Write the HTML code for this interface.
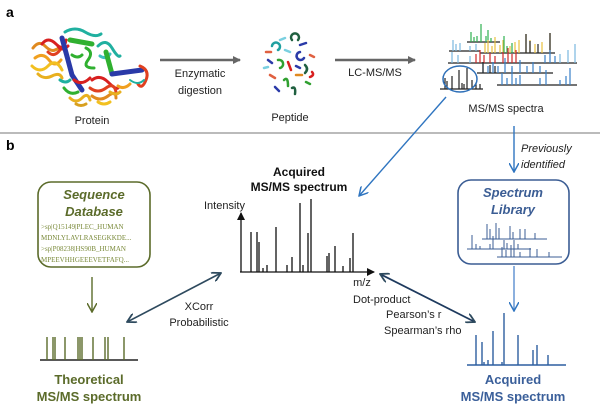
<!DOCTYPE html>
<html><head><meta charset="utf-8"><style>
html,body{margin:0;padding:0;background:#fff;}
svg{display:block;font-family:"Liberation Sans",sans-serif;}
</style></head><body>
<svg width="600" height="407" viewBox="0 0 600 407" xmlns="http://www.w3.org/2000/svg">
<defs>
<marker id="ag" markerWidth="8" markerHeight="8" refX="7" refY="4" orient="auto" markerUnits="userSpaceOnUse"><path d="M0,0 L8,4 L0,8 z" fill="#666"/></marker>
<marker id="ab" markerWidth="10" markerHeight="10" refX="9" refY="5" orient="auto-start-reverse" markerUnits="userSpaceOnUse"><path d="M0,0 L9,5 L0,10" fill="none" stroke="#2f75c0" stroke-width="1.5"/></marker>
<marker id="ao" markerWidth="10" markerHeight="10" refX="9" refY="5" orient="auto" markerUnits="userSpaceOnUse"><path d="M0,0 L9,5 L0,10" fill="none" stroke="#5b6b2a" stroke-width="1.5"/></marker>
<marker id="ad" markerWidth="10" markerHeight="10" refX="9" refY="5" orient="auto-start-reverse" markerUnits="userSpaceOnUse"><path d="M0,0 L9,5 L0,10" fill="none" stroke="#2e4a5e" stroke-width="1.8"/></marker>
<marker id="ak" markerWidth="8" markerHeight="8" refX="7" refY="4" orient="auto" markerUnits="userSpaceOnUse"><path d="M0,0 L8,4 L0,8 z" fill="#111"/></marker>
</defs>

<text x="6" y="17" font-size="14" font-weight="bold">a</text>
<text x="6" y="150" font-size="14" font-weight="bold">b</text>
<line x1="0" y1="133" x2="600" y2="133" stroke="#bbb" stroke-width="2"/>

<!-- protein blob -->
<g stroke-width="3" fill="none" stroke-linecap="round">
<path d="M33,48 q6,-8 12,-2 t10,4 t10,-4" stroke="#e08a20"/>
<path d="M35,58 q8,-6 14,2 t12,0" stroke="#f0a020"/>
<path d="M32,66 q8,8 16,0 t14,4" stroke="#f2c020"/>
<path d="M38,74 q6,6 14,2 t10,2" stroke="#e8b020"/>
<path d="M42,44 q6,-8 14,0 t10,-4" stroke="#d82020"/>
<path d="M48,52 q6,6 12,-2" stroke="#e04020"/>
<path d="M58,46 q4,6 10,0" stroke="#d82020"/>
<path d="M62,38 L68,60 L72,75 L82,90" stroke="#2a3aa8" stroke-width="5"/>
<path d="M65,32 q10,-6 20,0 t16,2" stroke="#20b0a0"/>
<path d="M70,40 L92,44" stroke="#30b030" stroke-width="5"/>
<path d="M86,48 q8,4 2,12 t6,8" stroke="#30b030"/>
<path d="M72,55 q6,4 10,0" stroke="#30b030"/>
<path d="M74,80 q8,6 16,-2" stroke="#d82020"/>
<path d="M64,88 q6,8 14,4" stroke="#30b030"/>
<path d="M60,80 q6,4 10,0" stroke="#20b0a0"/>
<path d="M70,98 q6,6 12,0 t8,2" stroke="#e8b020"/>
<path d="M76,104 q5,3 10,0" stroke="#d8a020"/>
<path d="M98,46 q8,-8 14,2 t8,8" stroke="#20b0a0"/>
<path d="M100,56 q6,4 10,-2" stroke="#40c0c0"/>
<path d="M106,52 L112,74" stroke="#30b030" stroke-width="5"/>
<path d="M112,74 L142,70" stroke="#2a3aa8" stroke-width="5"/>
<path d="M140,66 q10,4 6,14 t-8,4" stroke="#e04020"/>
<path d="M130,80 q8,6 14,0" stroke="#20b0a0" stroke-width="2"/>
<path d="M92,80 q8,-6 16,2 t10,6" stroke="#d82020"/>
<path d="M90,88 q8,6 16,0 t10,4" stroke="#e04020"/>
<path d="M92,96 q8,6 16,0 t8,2" stroke="#e08a20"/>
<path d="M98,102 q6,4 12,0" stroke="#f2c020"/>
<path d="M118,86 q6,4 12,-2" stroke="#f0a020"/>
<path d="M110,92 q6,4 10,0" stroke="#e8b020"/>
</g>
<text x="92" y="124" font-size="11" text-anchor="middle" fill="#222">Protein</text>

<line x1="160" y1="60" x2="240" y2="60" stroke="#666" stroke-width="2.5" marker-end="url(#ag)"/>
<text x="200" y="77" font-size="11" text-anchor="middle" fill="#222">Enzymatic</text>
<text x="200" y="94" font-size="11" text-anchor="middle" fill="#222">digestion</text>

<!-- peptides -->
<g fill="none" stroke-width="2.5" stroke-linecap="round">
<path d="M272,46 a4,4 0 1,1 6,4" stroke="#20a0a0"/>
<path d="M292,40 a4,4 0 1,1 6,0" stroke="#206040"/>
<path d="M300,52 a4,4 0 1,0 4,6" stroke="#2a3aa8"/>
<path d="M278,60 a4,4 0 1,1 2,8" stroke="#30a030"/>
<path d="M288,62 l3,8" stroke="#d82020"/>
<path d="M268,60 l4,3" stroke="#2a3aa8"/>
<path d="M305,65 q4,4 0,8" stroke="#206040"/>
<path d="M284,80 q4,-4 4,6" stroke="#30a030"/>
<path d="M270,75 l5,3" stroke="#e06040"/>
<path d="M312,72 q3,3 -2,5" stroke="#d82020"/>
<path d="M275,87 l4,4" stroke="#2a3aa8"/>
<path d="M296,75 l6,0" stroke="#e08a20"/>
<path d="M300,45 l6,-2" stroke="#2a3aa8"/>
<path d="M266,52 l5,0" stroke="#e06040"/>
<path d="M285,50 l5,2" stroke="#7ad0e0"/>
<path d="M310,55 l4,2" stroke="#e06040"/>
<path d="M264,68 l4,-1" stroke="#7ad0e0"/>
<path d="M292,88 q4,-2 3,6" stroke="#206040"/>
<path d="M296,66 l4,2" stroke="#2a3aa8"/>
<path d="M280,40 l5,-2" stroke="#7ad0e0"/>
<path d="M306,82 l4,2" stroke="#30a030"/>
</g>
<text x="290" y="121" font-size="11" text-anchor="middle" fill="#222">Peptide</text>

<line x1="335" y1="60" x2="415" y2="60" stroke="#666" stroke-width="2.5" marker-end="url(#ag)"/>
<text x="375" y="76" font-size="11" text-anchor="middle" fill="#222">LC-MS/MS</text>

<!-- spectra stack -->
<g stroke-width="1.2">
<line x1="467" y1="42" x2="500" y2="42" stroke="#222"/>
<path d="M471,42V32 M474,42V37 M477,42V36 M481,42V24 M486,42V36 M488,42V30 M491,42V38" stroke="#30b050"/>
<line x1="449" y1="51" x2="480" y2="51" stroke="#222"/>
<path d="M453,51V40 M456,51V44 M460,51V43 M470,51V46 M476,51V44" stroke="#7ab8e0"/>
<line x1="480" y1="53" x2="555" y2="53" stroke="#222"/>
<path d="M485,53V43 M488,53V40 M492,53V46 M495,53V37 M500,53V45 M503,53V40 M510,53V46 M515,53V42 M519,53V40 M526,53V34 M530,53V40 M535,53V44 M542,53V42 M550,53V33" stroke="#e8c040"/>
<path d="M526,53V34 M530,53V41 M538,53V44 M550,53V33" stroke="#222"/>
<path d="M504,53V36 M507,53V46 M512,53V43" stroke="#30b050"/>
<line x1="448" y1="63" x2="577" y2="63" stroke="#222"/>
<path d="M452,63V52 M458,63V55 M470,63V56 M560,63V54 M568,63V50 M575,63V44" stroke="#7ab8e0"/>
<path d="M476,63V54 M480,63V50 M484,63V55 M490,63V53 M495,63V56 M503,63V52 M508,63V48 M512,63V54 M516,63V50" stroke="#d02828"/>
<path d="M545,63V55 M550,63V50 M555,63V56" stroke="#3a80c8"/>
<line x1="477" y1="73" x2="553" y2="73" stroke="#222"/>
<path d="M483,73V63 M488,73V66 M493,73V62 M498,73V66 M505,73V58 M512,73V66 M520,73V60 M527,73V66 M533,73V62 M540,73V66" stroke="#3a80c8"/>
<path d="M483,73V62 M490,73V65 M495,73V66" stroke="#222"/>
<line x1="497" y1="85" x2="577" y2="85" stroke="#222"/>
<path d="M502,85V73 M507,85V78 M512,85V68 M516,85V78 M520,85V75 M540,85V78 M546,85V70 M560,85V80 M566,85V76 M570,85V68" stroke="#3a80c8"/>
<line x1="440" y1="89" x2="483" y2="89" stroke="#222"/>
<path d="M445,89V78 M447,89V81 M452,89V76 M459,89V70 M462,89V83 M464,89V84 M467,89V68 M472,89V80 M476,89V83 M480,89V84" stroke="#222"/>
</g>
<ellipse cx="460" cy="79" rx="17" ry="13" fill="none" stroke="#2f70b8" stroke-width="1.5"/>
<text x="506" y="112" font-size="11" text-anchor="middle" fill="#222">MS/MS spectra</text>

<!-- blue connectors -->
<line x1="446" y1="97" x2="359" y2="196" stroke="#2f75c0" stroke-width="1.4" marker-end="url(#ab)"/>
<line x1="514" y1="126" x2="514" y2="172" stroke="#2f75c0" stroke-width="1.4" marker-end="url(#ab)"/>
<text x="521" y="152" font-size="11" font-style="italic" fill="#222">Previously</text>
<text x="521" y="168" font-size="11" font-style="italic" fill="#222">identified</text>

<!-- sequence database -->
<rect x="38" y="182" width="112" height="85" rx="13" fill="#fff" stroke="#5b6b2a" stroke-width="1.6"/>
<text x="94" y="199" font-size="13" font-weight="bold" font-style="italic" text-anchor="middle" fill="#5b6b2a">Sequence</text>
<text x="94" y="216" font-size="13" font-weight="bold" font-style="italic" text-anchor="middle" fill="#5b6b2a">Database</text>
<g font-family="'Liberation Serif',serif" font-size="7" fill="#7a8a3a">
<text x="41" y="229">&gt;sp|Q15149|PLEC_HUMAN</text>
<text x="41" y="240">MDNLYLAVLRASEGKKDE...</text>
<text x="41" y="251">&gt;sp|P08238|HS90B_HUMAN</text>
<text x="41" y="262">MPEEVHHGEEEVETFAFQ...</text>
</g>
<line x1="92" y1="277" x2="92" y2="312" stroke="#5b6b2a" stroke-width="1.4" marker-end="url(#ao)"/>
<line x1="40" y1="360" x2="138" y2="360" stroke="#222" stroke-width="1.4"/>
<path d="M47,360V337 M53,360V337 M55,360V337 M65,360V337 M78,360V337 M80,360V337 M82,360V337 M93,360V337 M105,360V337 M108,360V337 M124,360V337" stroke="#5b6b2a" stroke-width="1.4"/>
<text x="89" y="384" font-size="13" font-weight="bold" text-anchor="middle" fill="#5b6b2a">Theoretical</text>
<text x="89" y="401" font-size="13" font-weight="bold" text-anchor="middle" fill="#5b6b2a">MS/MS spectrum</text>

<line x1="127" y1="322" x2="221" y2="273" stroke="#2e4a5e" stroke-width="1.6" marker-start="url(#ad)" marker-end="url(#ad)"/>
<text x="199" y="310" font-size="11" text-anchor="middle" fill="#222">XCorr</text>
<text x="199" y="326" font-size="11" text-anchor="middle" fill="#222">Probabilistic</text>

<!-- central spectrum -->
<text x="299" y="176" font-size="12" font-weight="bold" text-anchor="middle" fill="#111">Acquired</text>
<text x="299" y="191" font-size="12" font-weight="bold" text-anchor="middle" fill="#111">MS/MS spectrum</text>
<text x="204" y="209" font-size="11" fill="#222">Intensity</text>
<line x1="241" y1="272" x2="241" y2="213" stroke="#111" stroke-width="1.3" marker-end="url(#ak)"/>
<line x1="240" y1="272" x2="374" y2="272" stroke="#111" stroke-width="1.3" marker-end="url(#ak)"/>
<path d="M251,272V232 M257,272V232 M259,272V242 M263,272V268 M267,272V265 M276,272V227 M287,272V265 M292,272V257 M300,272V203 M303,272V265 M308,272V233 M311,272V199 M327,272V256 M329,272V253 M335,272V246 M343,272V266 M350,272V258 M353,272V233" stroke="#111" stroke-width="1.3"/>
<text x="362" y="286" font-size="11" text-anchor="middle" fill="#222">m/z</text>

<line x1="380" y1="274" x2="475" y2="322" stroke="#1e3a5e" stroke-width="1.8" marker-start="url(#ad)" marker-end="url(#ad)"/>
<text x="353" y="303" font-size="11" fill="#222">Dot-product</text>
<text x="386" y="318" font-size="11" fill="#222">Pearson’s r</text>
<text x="384" y="334" font-size="11" fill="#222">Spearman’s rho</text>

<!-- spectrum library -->
<rect x="458" y="180" width="111" height="84" rx="13" fill="#fff" stroke="#3b5d94" stroke-width="1.6"/>
<text x="513" y="197" font-size="13" font-weight="bold" font-style="italic" text-anchor="middle" fill="#3b5d94">Spectrum</text>
<text x="513" y="214" font-size="13" font-weight="bold" font-style="italic" text-anchor="middle" fill="#3b5d94">Library</text>
<g stroke="#3b5d94" stroke-width="1">
<line x1="482" y1="239" x2="547" y2="239"/>
<path d="M487,239V224 M490,239V229 M496,239V223 M499,239V228 M510,239V226 M513,239V232 M520,239V229 M525,239V229 M535,239V233"/>
<line x1="467" y1="249" x2="531" y2="249"/>
<path d="M472,249V235 M476,249V244 M480,249V246 M490,249V244 M493,249V236 M504,249V240 M507,249V243 M518,249V244"/>
<line x1="497" y1="257" x2="562" y2="257"/>
<path d="M502,257V247 M506,257V250 M511,257V245 M514,257V240 M520,257V252 M530,257V248 M537,257V249 M549,257V252"/>
</g>
<line x1="514" y1="266" x2="514" y2="311" stroke="#5b8fd0" stroke-width="1.4" marker-end="url(#ab)"/>
<line x1="467" y1="365" x2="566" y2="365" stroke="#2d5fa0" stroke-width="1.5"/>
<path d="M476,365V335 M482,365V342 M484,365V362 M488,365V360 M493,365V331 M502,365V362 M504,365V313 M518,365V335 M533,365V350 M537,365V345 M548,365V355" stroke="#2d5fa0" stroke-width="1.4"/>
<text x="513" y="384" font-size="13" font-weight="bold" text-anchor="middle" fill="#3a5f9a">Acquired</text>
<text x="513" y="401" font-size="13" font-weight="bold" text-anchor="middle" fill="#3a5f9a">MS/MS spectrum</text>
</svg>
</body></html>
